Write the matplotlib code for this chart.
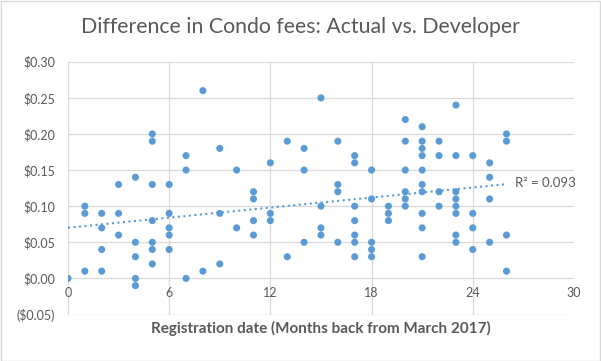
import matplotlib
matplotlib.use('Agg')
import matplotlib.pyplot as plt
import numpy as np
from matplotlib.patches import Rectangle
from matplotlib.ticker import FuncFormatter

# months back from March 2017, one entry per condo
months = [0,
          1, 1, 1,
          2, 2, 2, 2,
          3, 3, 3,
          4, 4, 4, 4, 4,
          5, 5, 5, 5, 5, 5, 5,
          6, 6, 6, 6, 6,
          7, 7, 7,
          8, 8,
          9, 9, 9,
          10, 10,
          11, 11, 11, 11,
          12, 12, 12,
          13, 13,
          14, 14, 14,
          15, 15, 15, 15,
          16, 16, 16, 16,
          17, 17, 17, 17, 17, 17, 17,
          18, 18, 18, 18, 18,
          19, 19, 19,
          20, 20, 20, 20, 20, 20,
          21, 21, 21, 21, 21, 21, 21, 21, 21, 21,
          22, 22, 22, 22,
          23, 23, 23, 23, 23, 23, 23, 23,
          24, 24, 24, 24,
          25, 25, 25, 25,
          26, 26, 26, 26]

# actual minus developer condo fee ($ per sq ft)
fee_diff = [0.00,
            0.10, 0.09, 0.01,
            0.09, 0.07, 0.04, 0.01,
            0.13, 0.09, 0.06,
            0.14, 0.05, 0.03, 0.00, -0.01,
            0.20, 0.19, 0.13, 0.08, 0.05, 0.04, 0.02,
            0.13, 0.09, 0.07, 0.06, 0.04,
            0.17, 0.15, 0.00,
            0.26, 0.01,
            0.18, 0.09, 0.02,
            0.15, 0.07,
            0.12, 0.11, 0.08, 0.06,
            0.16, 0.09, 0.08,
            0.19, 0.03,
            0.18, 0.15, 0.05,
            0.25, 0.10, 0.07, 0.06,
            0.19, 0.13, 0.12, 0.05,
            0.17, 0.16, 0.10, 0.08, 0.06, 0.05, 0.03,
            0.15, 0.11, 0.05, 0.04, 0.03,
            0.10, 0.09, 0.08,
            0.22, 0.19, 0.15, 0.12, 0.11, 0.10,
            0.21, 0.19, 0.18, 0.17, 0.15, 0.13, 0.12, 0.09, 0.07, 0.03,
            0.19, 0.17, 0.12, 0.10,
            0.24, 0.17, 0.12, 0.11, 0.10, 0.09, 0.06, 0.05,
            0.17, 0.09, 0.07, 0.04,
            0.16, 0.14, 0.11, 0.05,
            0.20, 0.19, 0.06, 0.01]

x_ticks = [0, 6, 12, 18, 24, 30]
y_ticks = [-0.05, 0.0, 0.05, 0.10, 0.15, 0.20, 0.25, 0.30]
r2_label = 'R\u00b2 = 0.093'

blue = '#5b9bd5'
text_grey = '#595959'
grid_grey = '#d9d9d9'

plt.rcParams['font.family'] = ['Lato', 'DejaVu Sans']


def money(v, pos):
    if v < -1e-9:
        return '(${:.2f})'.format(-v)
    return '${:.2f}'.format(abs(v))


fig = plt.figure(figsize=(6.01, 3.61), dpi=100)
ax = fig.add_axes([0.1131, 0.1288, 0.8419, 0.7002])

x = np.array(months, dtype=float)
y = np.array(fee_diff)
ax.scatter(x, y, s=26, color=blue, edgecolors='none', zorder=3)

slope, intercept = np.polyfit(x, y, 1)
xf = np.array([0, x.max()])
ax.plot(xf, intercept + slope*xf, ':', color=blue, lw=1.5, zorder=2)
ax.text(26.5, intercept + slope*26.5, r2_label, color=text_grey,
        fontsize=9.5, va='center', ha='left')

ax.set_xlim(0, 30)
ax.set_ylim(-0.05, 0.30)
ax.set_xticks(x_ticks)
ax.set_yticks(y_ticks)
ax.yaxis.set_major_formatter(FuncFormatter(money))
ax.grid(True, color=grid_grey, lw=0.9)
ax.set_axisbelow(True)
for side in ['top', 'right', 'left']:
    ax.spines[side].set_visible(False)
ax.spines['bottom'].set_position(('data', 0))
ax.spines['bottom'].set_color('none')
ax.tick_params(length=0, labelsize=9, labelcolor=text_grey)
ax.tick_params(axis='x', pad=6)
ax.tick_params(axis='y', pad=9)

ax.set_xlabel('Registration date (Months back from March 2017)',
              fontsize=11, fontweight='bold', color=text_grey)
ax.xaxis.set_label_coords(0.5, -0.026)

fig.text(0.5, 0.925, 'Difference in Condo fees: Actual vs. Developer',
         ha='center', va='center', fontsize=15.3, color=text_grey)

fig.patches.append(Rectangle((0.001, 0.001), 0.997, 0.996,
                             transform=fig.transFigure, fill=False,
                             edgecolor=grid_grey, lw=1))

fig.savefig('out.png', dpi=100)
